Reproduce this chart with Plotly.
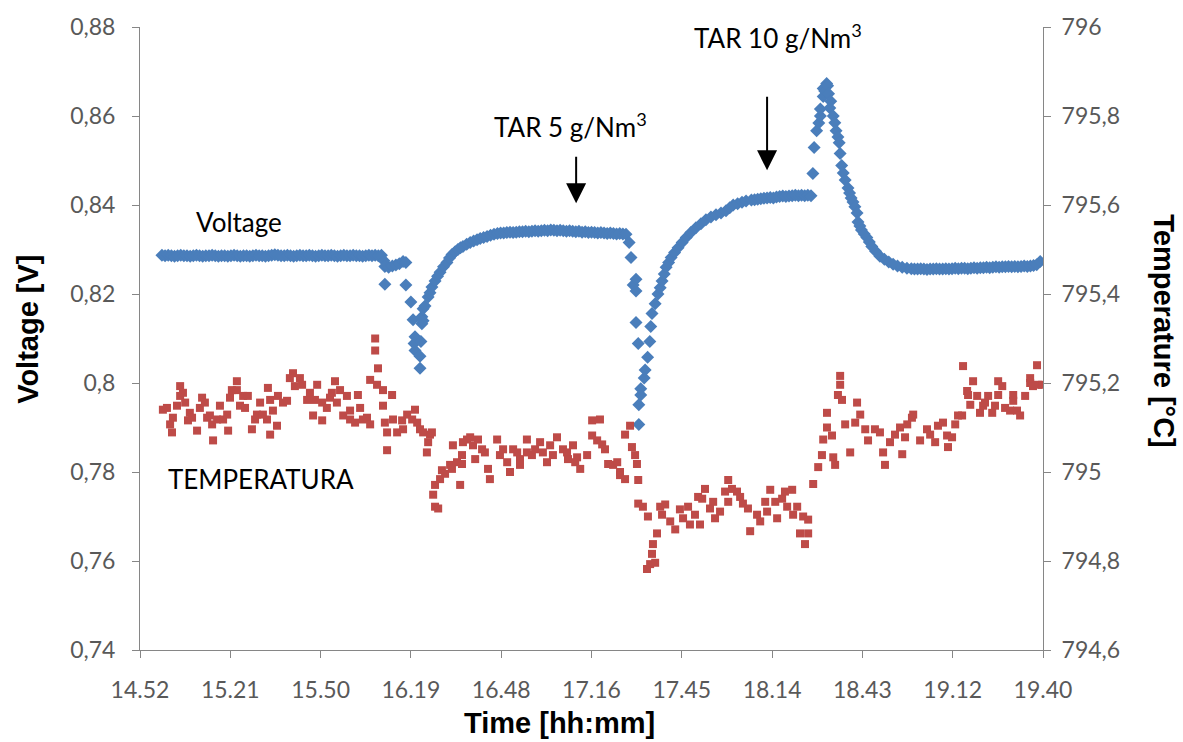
import plotly.graph_objects as go

# ---------------- axis categories / labels ----------------
time_tick_labels = ["14.52", "15.21", "15.50", "16.19", "16.48", "17.16",
                    "17.45", "18.14", "18.43", "19.12", "19.40"]
time_span_min = 288          # 14:52 -> 19:40
volt_ticks = [0.74, 0.76, 0.78, 0.80, 0.82, 0.84, 0.86, 0.88]
volt_tick_labels = ["0,74", "0,76", "0,78", "0,8", "0,82", "0,84", "0,86", "0,88"]
temp_ticks = [794.6, 794.8, 795.0, 795.2, 795.4, 795.6, 795.8, 796.0]
temp_tick_labels = ["794,6", "794,8", "795", "795,2", "795,4", "795,6", "795,8", "796"]

# ---------------- Voltage series (time in minutes after 14:52) ----------------
volt_t_a = list(range(7, 78))
volt_a = [0.8287, 0.8286, 0.8287, 0.8286, 0.8285, 0.8286, 0.8287, 0.8286, 0.8286, 0.8285,
          0.8286, 0.8287, 0.8286, 0.8285, 0.8286, 0.8286, 0.8287, 0.8286, 0.8285, 0.8286,
          0.8286, 0.8285, 0.8286, 0.8287, 0.8286, 0.8285, 0.8286, 0.8286, 0.8285, 0.8286,
          0.8287, 0.8286, 0.8286, 0.8285, 0.8286, 0.8287, 0.8288, 0.8287, 0.8286, 0.8286,
          0.8287, 0.8286, 0.8285, 0.8286, 0.8287, 0.8286, 0.8286, 0.8287, 0.8286, 0.8285,
          0.8286, 0.8287, 0.8286, 0.8286, 0.8287, 0.8286, 0.8285, 0.8286, 0.8287, 0.8286,
          0.8286, 0.8287, 0.8286, 0.8286, 0.8285, 0.8286, 0.8287, 0.8286, 0.8287, 0.8286, 0.8287]

volt_t_b = [77.8, 78.1, 78.1, 79.3, 80.5, 81.6, 82.7, 83.9, 84.8, 84.8]
volt_b = [0.8275, 0.8262, 0.8222, 0.8260, 0.8263, 0.8265, 0.8268, 0.8273, 0.8271, 0.8220]

volt_t_c = [86.4, 87.1, 87.7, 87.4, 87.7, 89.3, 89.3, 89.6, 89.9, 89.9,
            90.3, 90.3, 90.9, 91.9, 92.5, 93.1, 94.1, 94.9, 95.7, 96.8,
            97.9, 98.7, 99.5, 100.5, 101.4, 102.2, 103.0, 104.2, 105.3, 106.4,
            107.5, 108.5, 109.6, 110.7, 111.8, 112.9]
volt_c = [0.8182, 0.8142, 0.8104, 0.8089, 0.8073, 0.8060, 0.8033, 0.8093, 0.8133, 0.8149,
          0.8140, 0.8167, 0.8173, 0.8193, 0.8203, 0.8216, 0.8229, 0.8240, 0.8249, 0.8261,
          0.8271, 0.8281, 0.8289, 0.8295, 0.8300, 0.8304, 0.8307, 0.8312, 0.8316, 0.8319,
          0.8322, 0.8325, 0.8327, 0.8329, 0.8332, 0.8334]

volt_t_d = list(range(114, 156))
volt_d = [0.8336, 0.8337, 0.8337, 0.8338, 0.8339, 0.8338, 0.8339, 0.8340, 0.8340, 0.8341,
          0.8340, 0.8341, 0.8342, 0.8341, 0.8342, 0.8343, 0.8342, 0.8344, 0.8343, 0.8342,
          0.8343, 0.8342, 0.8341, 0.8342, 0.8341, 0.8340, 0.8341, 0.8339, 0.8340, 0.8338,
          0.8339, 0.8338, 0.8337, 0.8338, 0.8337, 0.8336, 0.8337, 0.8336, 0.8335, 0.8336,
          0.8335, 0.8334]

volt_t_e = [156.0, 156.6, 157.3, 158.2, 158.2, 158.2, 158.9, 159.1, 159.1, 159.7,
            159.7, 160.8, 161.1, 161.9, 162.6, 162.9, 163.3, 164.3, 165.2, 165.9,
            166.5, 167.2, 167.8, 168.6, 169.4, 170.5, 171.6, 172.9, 174.2, 175.7,
            177.3, 178.9, 180.5, 182.1, 183.7, 185.3, 186.9, 188.1, 189.2, 190.6,
            192.0, 193.3]
volt_e = [0.8316, 0.8282, 0.8220, 0.8233, 0.8207, 0.8136, 0.8089, 0.7951, 0.7907, 0.7973,
          0.7987, 0.8011, 0.8029, 0.8058, 0.8093, 0.8127, 0.8156, 0.8178, 0.8200, 0.8214,
          0.8229, 0.8245, 0.8260, 0.8271, 0.8282, 0.8293, 0.8304, 0.8316, 0.8327, 0.8338,
          0.8349, 0.8358, 0.8367, 0.8373, 0.8378, 0.8382, 0.8387, 0.8394, 0.8400, 0.8403,
          0.8406, 0.8409]

volt_t_f = list(range(195, 215))
volt_f = [0.8411, 0.8412, 0.8413, 0.8414, 0.8415, 0.8416, 0.8417, 0.8416, 0.8418, 0.8419,
          0.8420, 0.8419, 0.8420, 0.8421, 0.8422, 0.8421, 0.8422, 0.8421, 0.8422, 0.8421]

volt_t_g = [214.6, 215.0, 215.8, 216.5, 217.0, 217.0, 217.9, 217.9, 218.4, 219.0,
            219.3, 219.6, 220.0, 220.3, 221.1, 221.6, 222.0, 222.6, 223.0, 223.3,
            223.8, 224.3, 224.9, 225.8, 226.3, 226.8, 227.4, 228.0, 228.7, 229.0,
            229.6, 230.1, 231.0, 231.8, 232.6, 233.4, 234.6, 236.0, 237.4, 238.8,
            240.2, 241.6, 243.1, 244.6]
volt_g = [0.8471, 0.8529, 0.8567, 0.8584, 0.8600, 0.8616, 0.8644, 0.8662, 0.8656, 0.8673,
          0.8668, 0.8650, 0.8618, 0.8633, 0.8600, 0.8585, 0.8567, 0.8553, 0.8540, 0.8516,
          0.8489, 0.8472, 0.8456, 0.8438, 0.8427, 0.8416, 0.8407, 0.8396, 0.8382, 0.8362,
          0.8353, 0.8344, 0.8335, 0.8327, 0.8317, 0.8307, 0.8296, 0.8285, 0.8278, 0.8272,
          0.8267, 0.8263, 0.8260, 0.8258]

volt_t_h = list(range(246, 287)) + [287.1]
volt_h = [0.8257, 0.8256, 0.8256, 0.8257, 0.8256, 0.8255, 0.8256, 0.8256, 0.8257, 0.8256,
          0.8256, 0.8257, 0.8256, 0.8257, 0.8258, 0.8257, 0.8258, 0.8258, 0.8257, 0.8258,
          0.8259, 0.8258, 0.8259, 0.8259, 0.8260, 0.8259, 0.8260, 0.8261, 0.8260, 0.8261,
          0.8261, 0.8262, 0.8261, 0.8262, 0.8261, 0.8262, 0.8263, 0.8262, 0.8263, 0.8264,
          0.8266, 0.8273]

# ---------------- Temperature series ----------------
temp_t_1 = [7.3, 8.6, 9.6, 10.2, 10.5, 11.8, 12.8, 12.8, 13.7, 14.4,
            15.3, 15.9, 16.6, 18.2, 19.1, 19.8, 20.7, 21.4, 22.3, 23.0,
            23.3, 24.6, 25.5, 26.5, 27.8, 28.1, 28.7, 29.3, 30.9, 30.9,
            31.9, 32.9, 33.5, 34.4, 35.7, 36.7, 37.3, 38.3, 39.2, 40.5,
            40.8, 41.5, 41.5, 42.4, 43.7, 44.0, 45.6, 46.9, 47.8, 48.8,
            49.4, 51.0, 51.7, 53.3, 54.2, 55.2, 55.8, 56.5, 58.1, 58.1,
            59.6, 60.6, 61.2, 62.2, 62.8, 63.8, 64.8, 66.0, 67.0, 67.0,
            68.6, 69.5, 70.2, 71.1, 72.4, 73.4, 73.4, 75.0, 75.0, 75.6,
            75.9, 77.5, 77.5, 78.1, 78.8, 78.8, 80.4, 80.7, 82.0, 83.6,
            83.9, 85.2, 86.8, 87.7, 88.4, 89.3, 90.3, 91.5, 91.9, 92.5,
            93.1]
temp_1 = [795.140, 795.144, 795.107, 795.089, 795.122, 795.149, 795.193, 795.171, 795.178, 795.156,
          795.116, 795.133, 795.122, 795.093, 795.144, 795.167, 795.156, 795.122, 795.127, 795.107,
          795.071, 795.118, 795.149, 795.118, 795.129, 795.093, 795.167, 795.184, 795.204, 795.184,
          795.149, 795.171, 795.144, 795.171, 795.096, 795.118, 795.129, 795.156, 795.129, 795.118,
          795.189, 795.162, 795.084, 795.138, 795.104, 795.171, 795.156, 795.160, 795.211, 795.222,
          795.193, 795.211, 795.196, 795.162, 795.178, 795.127, 795.162, 795.196, 795.156, 795.116,
          795.144, 795.167, 795.178, 795.204, 795.156, 795.184, 795.127, 795.171, 795.138, 795.118,
          795.111, 795.173, 795.144, 795.118, 795.122, 795.107, 795.207, 795.300, 795.273, 795.196,
          795.233, 795.184, 795.149, 795.111, 795.089, 795.049, 795.173, 795.118, 795.089, 795.116,
          795.096, 795.129, 795.118, 795.140, 795.111, 795.096, 795.089, 795.044, 795.067, 795.084,
          795.089]

temp_t_2 = [93.5, 94.1, 94.1, 95.1, 95.7, 96.3, 97.3, 98.9, 99.5, 99.8,
            101.1, 102.1, 102.7, 102.7, 103.0, 104.3, 105.3, 106.2, 106.9, 107.8,
            109.1, 110.0, 111.0, 111.6, 113.9, 114.8, 115.8, 117.1, 118.0, 119.0,
            120.3, 121.2, 121.2, 123.4, 123.4, 125.0, 126.0, 127.6, 128.5, 129.8,
            130.8, 131.7, 133.0, 134.9, 136.2, 136.5, 138.1, 138.8, 139.4, 140.4,
            142.6, 144.2, 144.2, 145.8, 146.7, 147.4, 148.3, 149.3, 150.9, 152.2,
            153.1, 153.1, 154.7, 154.7, 156.3, 156.9, 157.9, 158.5, 158.9]
temp_2 = [794.949, 794.922, 794.971, 794.918, 794.984, 795.004, 794.996, 795.016, 795.007, 795.060,
          795.022, 794.971, 795.018, 795.038, 795.067, 795.073, 795.078, 795.060, 795.029, 795.073,
          795.051, 795.044, 795.007, 794.984, 795.073, 795.038, 795.051, 795.022, 795.000, 795.051,
          795.044, 795.029, 795.016, 795.073, 795.044, 795.038, 795.051, 795.067, 795.044, 795.022,
          795.060, 795.038, 795.078, 795.051, 795.044, 795.029, 795.060, 795.022, 795.033, 795.007,
          795.038, 795.116, 795.082, 795.071, 795.118, 795.062, 795.051, 795.018, 795.016, 795.022,
          795.000, 794.993, 794.984, 795.084, 795.104, 795.056, 795.038, 795.018, 794.982]

temp_t_3 = [158.9, 160.4, 161.7, 162.0, 162.7, 163.3, 163.6, 164.3, 164.9, 165.9,
            166.5, 167.5, 169.1, 170.7, 172.2, 173.2, 174.8, 175.4, 177.0, 178.0,
            178.6, 179.3, 180.2, 181.8, 182.8, 183.4, 185.0, 186.6, 187.6, 187.6,
            188.8, 190.4, 191.4, 192.3, 193.9, 194.6, 196.8, 197.8, 199.4, 200.0,
            201.0, 202.6, 203.2, 204.8, 205.7, 206.4, 208.0, 208.3, 209.6, 210.5,
            211.5, 212.1, 213.1, 213.1, 214.7, 216.3, 217.5, 217.9, 219.1, 219.1,
            220.7, 221.1, 221.7, 222.6, 223.3, 223.3, 223.9, 224.9, 226.5, 228.1,
            228.7, 229.7]
temp_3 = [794.929, 794.922, 794.782, 794.900, 794.793, 794.816, 794.838, 794.796, 794.862, 794.922,
          794.904, 794.927, 794.889, 794.871, 794.916, 794.896, 794.922, 794.882, 794.904, 794.944,
          794.882, 794.940, 794.962, 794.918, 794.933, 794.896, 794.911, 794.956, 794.982, 794.933,
          794.962, 794.956, 794.944, 794.929, 794.918, 794.867, 794.904, 794.889, 794.933, 794.911,
          794.960, 794.933, 794.896, 794.940, 794.956, 794.922, 794.960, 794.904, 794.922, 794.862,
          794.900, 794.838, 794.893, 794.862, 794.973, 795.011, 795.038, 795.073, 795.100, 795.133,
          795.082, 795.033, 795.016, 795.173, 795.216, 795.196, 795.162, 795.107, 795.044, 795.111,
          795.156, 795.129]

temp_t_4 = [231.3, 232.2, 234.4, 236.0, 237.0, 237.6, 239.2, 240.8, 242.4, 243.1,
            244.0, 244.7, 246.2, 246.6, 248.8, 251.0, 252.0, 253.6, 254.5, 256.1,
            257.4, 257.7, 259.0, 260.0, 260.9, 262.2, 262.5, 263.8, 264.1, 264.8,
            265.7, 267.0, 267.9, 268.9, 269.5, 270.5, 271.8, 272.7, 273.7, 273.7,
            275.0, 275.9, 277.5, 278.5, 278.5, 279.7, 280.7, 282.3, 283.9, 283.9,
            284.8, 286.1, 286.4, 287.7]
temp_4 = [795.096, 795.071, 795.096, 795.089, 795.044, 795.016, 795.067, 795.084, 795.100, 795.040,
          795.078, 795.107, 795.122, 795.129, 795.071, 795.096, 795.084, 795.067, 795.104, 795.111,
          795.082, 795.056, 795.078, 795.107, 795.127, 795.127, 795.238, 795.182, 795.173, 795.151,
          795.204, 795.171, 795.133, 795.149, 795.156, 795.171, 795.133, 795.149, 795.204, 795.173,
          795.193, 795.144, 795.138, 795.173, 795.160, 795.138, 795.127, 795.171, 795.211, 795.200,
          795.193, 795.240, 795.196, 795.196]

volt_time = volt_t_a + volt_t_b + volt_t_c + volt_t_d + volt_t_e + volt_t_f + volt_t_g + volt_t_h
volt_vals = volt_a + volt_b + volt_c + volt_d + volt_e + volt_f + volt_g + volt_h
temp_time = temp_t_1 + temp_t_2 + temp_t_3 + temp_t_4
temp_vals = temp_1 + temp_2 + temp_3 + temp_4

BLUE = "#4A7EBB"
RED = "#BE4B48"
AXIS = "#868686"
TICKFONT = dict(family="Lato, Carlito, sans-serif", size=23, color="#595959")
TITLEFONT = dict(family="Liberation Sans, Arial, sans-serif", size=29, color="#000000")
ANNFONT = dict(family="Lato, Carlito, sans-serif", size=26, color="#000000")

fig = go.Figure()
fig.add_trace(go.Scatter(x=volt_time, y=volt_vals, mode="markers", name="Voltage",
                         marker=dict(symbol="diamond", size=10, color=BLUE), yaxis="y"))
fig.add_trace(go.Scatter(x=temp_time, y=temp_vals, mode="markers", name="TEMPERATURA",
                         marker=dict(symbol="square", size=8, color=RED), yaxis="y2"))

n = len(time_tick_labels)
tick_pos = [i * time_span_min / (n - 1) for i in range(n)]

fig.update_layout(
    width=1183, height=742,
    margin=dict(l=140, r=140, t=20, b=92),
    paper_bgcolor="white", plot_bgcolor="white",
    showlegend=False,
    xaxis=dict(range=[0, time_span_min], tickvals=tick_pos, ticktext=time_tick_labels,
               showgrid=False, zeroline=False, showline=True, linecolor=AXIS, linewidth=1,
               ticks="outside", ticklen=7, tickcolor=AXIS, tickfont=TICKFONT,
               ticklabelstandoff=12),
    yaxis=dict(range=[0.74, 0.88], tickvals=volt_ticks, ticktext=volt_tick_labels,
               showgrid=False, zeroline=False, showline=True, linecolor=AXIS, linewidth=1,
               ticks="outside", ticklen=7, tickcolor=AXIS, tickfont=TICKFONT,
               ticklabelstandoff=12),
    yaxis2=dict(range=[794.6, 796.0], tickvals=temp_ticks, ticktext=temp_tick_labels,
                overlaying="y", side="right",
                showgrid=False, zeroline=False, showline=True, linecolor=AXIS, linewidth=1,
                ticks="outside", ticklen=7, tickcolor=AXIS, tickfont=TICKFONT,
                ticklabelstandoff=6),
)

ann = []
# axis titles
ann.append(dict(text="<b>Voltage [V]</b>", xref="paper", yref="paper", x=-0.124, y=0.514,
                textangle=-90, showarrow=False, font=TITLEFONT, xanchor="center", yanchor="middle"))
ann.append(dict(text="<b>Temperature [°C]</b>", xref="paper", yref="paper", x=1.133, y=0.513,
                textangle=90, showarrow=False, font=TITLEFONT, xanchor="center", yanchor="middle"))
ann.append(dict(text="<b>Time [hh:mm]</b>", xref="paper", yref="paper", x=0.4651, y=-0.117,
                showarrow=False, font=TITLEFONT, xanchor="center", yanchor="middle"))
# series labels
ann.append(dict(text="Voltage", xref="paper", yref="paper", x=0.1096, y=0.687,
                showarrow=False, font=ANNFONT, xanchor="center", yanchor="middle"))
ann.append(dict(text="TEMPERATURA", xref="paper", yref="paper", x=0.134, y=0.2746,
                showarrow=False, font=ANNFONT, xanchor="center", yanchor="middle"))
ann.append(dict(text="TAR 5 g/Nm<sup>3</sup>", xref="paper", yref="paper", x=0.4762, y=0.8413,
                showarrow=False, font=ANNFONT, xanchor="center", yanchor="middle"))
ann.append(dict(text="TAR 10 g/Nm<sup>3</sup>", xref="paper", yref="paper", x=0.7065, y=0.985,
                showarrow=False, font=ANNFONT, xanchor="center", yanchor="middle"))
# arrows
ann.append(dict(text="", x=139.1, y=0.8404, xref="x", yref="y", ax=0, ay=-48,
                showarrow=True, arrowhead=2, arrowsize=2, arrowwidth=2, arrowcolor="#000000"))
ann.append(dict(text="", x=200.0, y=0.8478, xref="x", yref="y", ax=0, ay=-75,
                showarrow=True, arrowhead=2, arrowsize=2, arrowwidth=2, arrowcolor="#000000"))
fig.update_layout(annotations=ann)

fig.write_html("out.html")
